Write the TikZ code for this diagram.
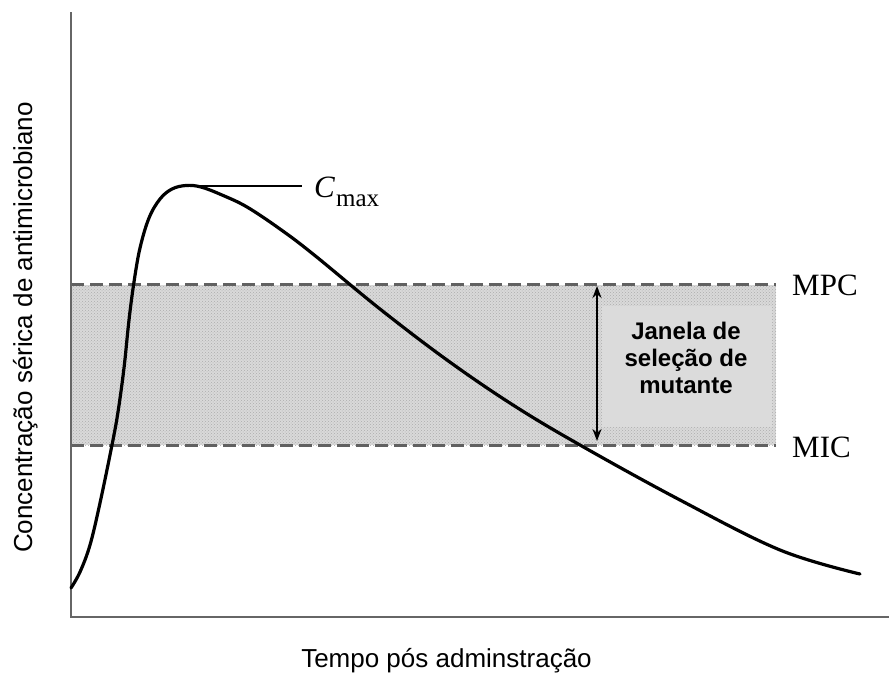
\documentclass[tikz,border=0pt]{standalone}
\usepackage{fontspec}
\setmainfont{Liberation Sans}
\newfontfamily\timesf{Liberation Serif}
\usetikzlibrary{arrows.meta,patterns}
\tikzset{
  axisline/.style={draw=black!60,line width=2.6pt},
  levelline/.style={draw=black!62,line width=3pt,dash pattern=on 13pt off 6pt},
  curveline/.style={draw=black,line width=3.2pt,line join=round,line cap=round},
  leader/.style={draw=black,line width=1.6pt},
  boxfill/.style={fill=black!14,draw=none},
  arr/.style={draw=black,line width=2.2pt,{Stealth[length=12pt,width=9pt]}-{Stealth[length=12pt,width=9pt]}},
  lvl/.style={font=\timesf\fontsize{31}{31}\selectfont,anchor=base west,inner sep=0pt},
  axlab/.style={font=\fontsize{26}{26}\selectfont,inner sep=0pt},
  boxtext/.style={font=\bfseries\fontsize{24}{27}\selectfont,align=center,inner sep=0pt}
}
\begin{document}
\begin{tikzpicture}[x=1pt,y=-1pt]
\useasboundingbox (0,0) rectangle (889,675);
% band
\fill[black!15] (71,285) rectangle (776,445);
\fill[pattern=crosshatch dots,pattern color=black!32] (71,285) rectangle (776,445);
\node[boxfill,minimum width=170pt,minimum height=121pt,anchor=north west] (box) at (602,306) {};
% level lines
\coordinate (mpcL) at (71,284);
\coordinate (mpcR) at (776,284);
\coordinate (micL) at (71,445);
\coordinate (micR) at (776,445);
\draw[levelline] (mpcL) -- (mpcR);
\draw[levelline] (micL) -- (micR);
% axes
\coordinate (ytop) at (71,12);
\coordinate (orig) at (71,617);
\coordinate (xend) at (889,617);
\draw[axisline] (ytop) -- (orig) -- (xend);
% curve
\draw[curveline] plot[smooth,tension=0.6] coordinates {
(71,588) (80,572) (90,545) (100,503) (112,445) (118,412) (124,368) (129,320) (134,282) (140,248) (149,218) (160,199) (172,189) (186,185.5) (201,187) (222,195)
(247,207) (280,229) (313,254) (380,309) (447,360) (513,405) (580,445)
(680,500) (780,550) (860,574)};
% Cmax leader
\coordinate (peak) at (187,186);
\coordinate (leadEnd) at (302,186);
\draw[leader] (peak) -- (leadEnd);
\node[anchor=base west,inner sep=0pt] (cmax) at (314,197) {\timesf\fontsize{31}{31}\selectfont\textit{C}\kern1pt\raisebox{-9pt}{\fontsize{25}{25}\selectfont max}};
% arrow
\coordinate (aTop) at (597,286);
\coordinate (aBot) at (597,441);
\draw[arr] (aTop) -- (aBot);
\node[boxtext] (wtext) at (686,358) {Janela de\\seleção de\\mutante};
% level labels
\node[lvl] (mpc) at (792,295) {MPC};
\node[lvl] (mic) at (792,457) {MIC};
% axis labels
\node[axlab,anchor=base] (xlab) at (446.5,667) {Tempo pós adminstração};
\node[axlab,rotate=90,anchor=base] (ylab) at (32,327.5) {Concentração sérica de antimicrobiano};
\end{tikzpicture}
\end{document}
